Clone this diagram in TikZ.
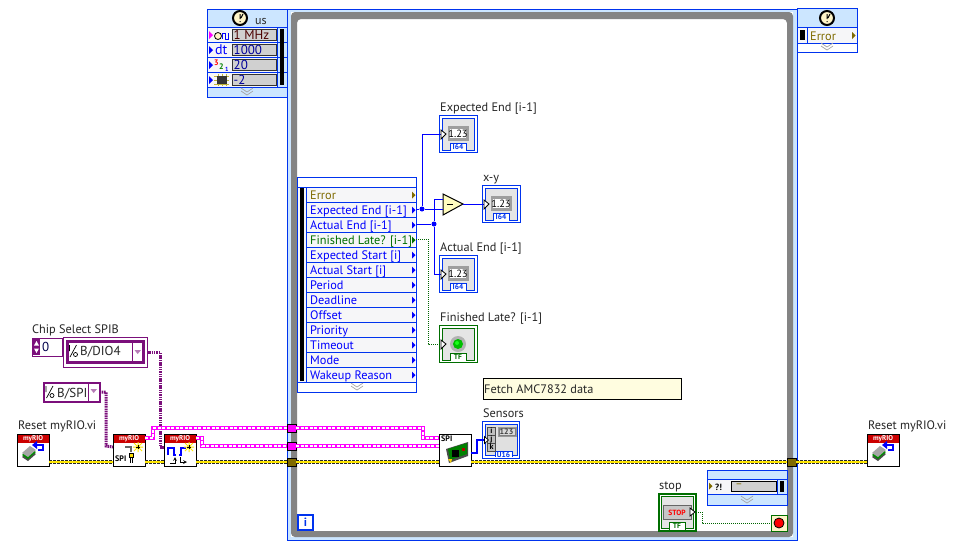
\documentclass[tikz,border=0pt]{standalone}
\usepackage{fontspec}
\setmainfont{PT Sans}
\usetikzlibrary{calc}
\definecolor{lvblue}{HTML}{0033EE}
\definecolor{pureblue}{HTML}{0000FF}
\definecolor{hdr}{HTML}{CCE6FF}
\definecolor{rowbg}{HTML}{F6F6F8}
\definecolor{lvgreen}{HTML}{006E00}
\definecolor{dkgreen}{HTML}{006400}
\definecolor{olive}{HTML}{7F6A00}
\definecolor{purp}{HTML}{7B0F7B}
\definecolor{pinkw}{HTML}{FF00FF}
\definecolor{loopgray}{HTML}{848484}
\definecolor{lightfield}{HTML}{D0D0D0}
\definecolor{cream}{HTML}{FFF5C8}
\tikzset{
 lab/.style={anchor=base west,inner sep=0pt,font=\fontsize{12.3}{13}\selectfont,text=black!85},
 rowtxt/.style={anchor=base west,inner sep=0pt,font=\fontsize{12.3}{13}\selectfont},
 fieldtxt/.style={anchor=base west,inner sep=0pt,font=\fontsize{13}{13}\selectfont},
 boxn/.style={draw,inner sep=0pt,outer sep=0pt,line width=1pt},
 vi/.style={boxn,draw=black,fill=white,minimum width=32pt,minimum height=32pt},
 tunnel/.style={boxn,draw=black,minimum width=9pt,minimum height=8pt},
 bluew/.style={draw=pureblue,line width=1pt},
 greenw/.style={draw=dkgreen,line width=1pt,dash pattern=on 1pt off 1pt},
 purpw/.style={draw=purp,line width=3pt,dash pattern=on 1.5pt off .8pt},
 pinkwire/.style={preaction={draw=pinkw,line width=4pt},draw=white,line width=1.2pt,dash pattern=on 3pt off 1.5pt},
 errw/.style={preaction={draw=black!85,line width=3.4pt,dash pattern=on 3pt off 1pt},draw=yellow!90!orange,line width=1.6pt},
 jn/.style={circle,fill=pureblue,inner sep=0pt,minimum size=5pt},
}
% indicator: name, x, y, colour, tag text
\newcommand{\indic}[5]{%
\begin{scope}[shift={(#2,#3)}]
 \node[boxn,draw=#4,fill=white,minimum width=38pt,minimum height=37pt] (#1) at (19,18.5) {};
 \fill[black!10] (3,3) rectangle (35,35);
 \draw[#4,line width=1pt] (3,35) -- (3,3) -- (35,3) -- (35,35) -- (27,35) -- (27,28) -- (11,28) -- (11,35) -- cycle;
 \fill[white] (11.5,28.5) rectangle (26.5,36);
 \draw[#4,line width=1pt] (11,28) -- (11,35) (27,28) -- (27,35);
 \coordinate (#1-in) at (2,19);
 \node[inner sep=0pt,font=\bfseries\fontsize{7.5}{7.5}\selectfont,text=#4] (#1-tag) at (19,32) {#5};
\end{scope}}
\newcommand{\numdisp}[3]{%
\begin{scope}[shift={(#2,#3)}]
 \fill[black!38] (9,11) rectangle (30,26);
 \fill[white] (11,14) rectangle (27,23);
 \node[inner sep=0pt,font=\fontsize{10.5}{10.5}\selectfont] (#1-val) at (19,18.7) {1.23};
 \draw[black,fill=white,line width=.8pt] (2,15) -- (7,19) -- (2,24) -- cycle;
\end{scope}}
\newcommand{\chev}[2]{%
 \draw[black!35,line width=.7pt] (#1-6,#2-3) -- (#1,#2+1) -- (#1+6,#2-3) (#1-6,#2) -- (#1,#2+4) -- (#1+6,#2);}
\newcommand{\clock}[2]{%
 \draw[black,fill=cream,line width=2pt] (#1,#2) circle (7pt);
 \draw[black,line width=1pt] (#1,#2-4) -- (#1,#2+1) (#1+1,#2) -- (#1+3,#2-4) (#1,#2+3) -- (#1,#2+4);}
\newcommand{\vihead}[1]{%
 \fill[red!80!black] (#1+.5,434.5) rectangle (#1+31.5,443);
 \node[inner sep=0pt,font=\bfseries\fontsize{7}{7}\selectfont,text=white] (hd#1) at (#1+16,439) {myRIO};}
\newcommand{\iolabel}[2]{%
 \draw[black,line width=.7pt] (#1,#2-6) -- (#1,#2) (#1+.5,#2+6) -- (#1+7,#2-6);
 \draw[black,line width=.7pt] (#1+6,#2+3.5) circle (2pt);}
\newcommand{\sparkle}[2]{%
 \draw[yellow!90!orange,line width=1pt] (#1-5,#2) -- (#1+5,#2) (#1,#2-5) -- (#1,#2+5) (#1-4,#2-4) -- (#1+4,#2+4) (#1-4,#2+4) -- (#1+4,#2-4);
 \draw[black,line width=.6pt] (#1-2,#2) -- (#1+2,#2) (#1,#2-2) -- (#1,#2+2);}
\newcommand{\reseticon}[1]{%
 \fill[black!70] (#1+5,457) -- (#1+13,450) -- (#1+19,454) -- (#1+11,461) -- cycle;
 \fill[green!55!black] (#1+5,455) -- (#1+13,448) -- (#1+19,452) -- (#1+11,459) -- cycle;
 \fill[black!35] (#1+5,453) -- (#1+13,446) -- (#1+19,450) -- (#1+11,457) -- cycle;
 \draw[pureblue,line width=1.5pt] (#1+18,445) -- (#1+26,445) -- (#1+26,450) -- (#1+21,450);
 \fill[pureblue] (#1+15,445) -- (#1+20,441) -- (#1+20,449) -- cycle;}

\begin{document}
\begin{tikzpicture}[x=1pt,y=-1pt]
\useasboundingbox (0,0) rectangle (958,547);
\fill[white] (0,0) rectangle (958,547);

%%% Timed loop frame
\node[boxn,draw=lvblue,fill=hdr,minimum width=510pt,minimum height=531pt] (loop) at (542,274.5) {};
\fill[white] (291,12) rectangle (793,537);
\fill[loopgray,even odd rule,rounded corners=4pt] (291,12) rectangle (793,537) (297,19) rectangle (787,531);
\draw[lvblue,line width=1pt] (287,9) rectangle (797,540);

%%% Input node
\node[boxn,draw=lvblue,fill=hdr,minimum width=80pt,minimum height=88pt] (inp) at (247,53) {};
\clock{240}{18}
\node[lab,font=\fontsize{12}{12}\selectfont] (us) at (255,24) {us};
\fill[rowbg] (207.5,27) rectangle (277,87);
\fill[hdr] (277,27) rectangle (286.5,87);
\foreach \yy in {27,42,57,72,87} \draw[lvblue,line width=1pt] (207,\yy) -- (287,\yy);
\draw[lvblue,line width=1pt] (277,27) -- (277,87);
\fill[black] (280,29) rectangle (284,85);
\foreach \yy/\lbl/\cc in {29/1 MHz/black!70!red,44/1000/blue!60!black,59/20/blue!60!black,74/-2/blue!60!black}{
 \draw[black!80,fill=lightfield,line width=.8pt] (232,\yy) rectangle (276,\yy+11);
 \node[fieldtxt,text=\cc] at (233.5,\yy+10.5) {\lbl};}
\fill[pinkw] (209,31) -- (213,35) -- (209,39) -- cycle;
\draw[black,fill=cream,line width=.8pt] (218,36) circle (3.5pt);
\draw[blue,line width=.8pt] (222,39) -- (222,33) -- (225,33) -- (225,39) -- (228,39) -- (228,33);
\fill[pureblue] (209,46) -- (213,50) -- (209,54) -- cycle;
\node[lab,text=pureblue,font=\fontsize{14}{14}\selectfont] (dt) at (215,54.5) {dt};
\fill[pureblue] (209,61) -- (213,65) -- (209,69) -- cycle;
\node[lab,text=red,font=\bfseries\fontsize{8}{8}\selectfont] (n3) at (214,65) {3};
\node[lab,text=green!50!black,font=\bfseries\fontsize{8}{8}\selectfont] (n2) at (219,69) {2};
\node[lab,text=blue,font=\bfseries\fontsize{6}{6}\selectfont] (n1) at (225,71) {1};
\fill[pureblue] (209,76) -- (213,80) -- (209,84) -- cycle;
\draw[yellow!70!black,line width=.7pt] (214,76) -- (229,76) (214,80) -- (229,80) (214,84) -- (229,84) (218,73.5) -- (218,86) (222,73.5) -- (222,86) (226,73.5) -- (226,86);
\fill[black!80] (217,76) rectangle (227,84);
\chev{247}{91}

%%% Error output node
\node[boxn,draw=lvblue,fill=white,minimum width=60pt,minimum height=44pt] (outn) at (827,30) {};
\fill[hdr] (797.5,8.5) rectangle (856.5,27);
\fill[rowbg] (797.5,27) rectangle (856.5,43);
\draw[lvblue,line width=1pt] (797,27) -- (857,27) (797,43) -- (857,43) (807,27) -- (807,43) (797,8) rectangle (857,52);
\clock{827}{18}
\fill[black] (800,30) rectangle (805,40);
\node[rowtxt,text=olive] (outerr) at (810,40) {Error};
\fill[olive] (852,32) -- (855.5,35.5) -- (852,39) -- cycle;
\chev{827}{46}

%%% Left data node
\node[boxn,draw=lvblue,fill=white,minimum width=119pt,minimum height=215pt] (ldn) at (356.5,284.5) {};
\fill[rowbg] (298,187) rectangle (415,382);
\draw[lvblue,line width=1pt] (297,177) rectangle (416,392) (306,187) -- (306,382) (297,187) -- (416,187);
\fill[black] (300,188) rectangle (304,381);
\foreach \ii/\lbl/\cc/\nn in {0/Error/olive/r0,1/Expected End [i-1]/pureblue/r1,2/Actual End [i-1]/pureblue/r2,3/Finished Late? [i-1]/lvgreen/r3,4/Expected Start [i]/pureblue/r4,5/Actual Start [i]/pureblue/r5,6/Period/pureblue/r6,7/Deadline/pureblue/r7,8/Offset/pureblue/r8,9/Priority/pureblue/r9,10/Timeout/pureblue/r10,11/Mode/pureblue/r11,12/Wakeup Reason/pureblue/r12}{
 \pgfmathsetmacro{\yt}{187+15*\ii}
 \draw[lvblue,line width=1pt] (306,\yt+15) -- (416,\yt+15);
 \node[rowtxt,text=\cc] (\nn) at (310,\yt+12) {\lbl};
 \fill[\cc] (412,\yt+4.5) -- (415.5,\yt+8) -- (412,\yt+11.5) -- cycle;
}
\draw[lvblue,line width=1pt] (297,382) -- (416,382);
\chev{357}{386}
\coordinate (o1) at (416,209);
\coordinate (o2) at (416,224);
\coordinate (o3) at (416,239);

%%% Indicators
\indic{ee}{439}{115}{lvblue}{I64}
\node[lab] (eel) at (440,111) {Expected End [i-1]};
\indic{xy}{482}{185}{lvblue}{I64}
\node[lab] (xyl) at (483,181) {x-y};
\indic{ae}{439}{255}{lvblue}{I64}
\node[lab] (ael) at (440,251) {Actual End [i-1]};
\indic{fl}{439}{325}{lvgreen}{TF}
\node[lab] (fll) at (440,321) {Finished Late? [i-1]};
\fill[black!30] (458,344) circle (8pt);
\fill[green!75!black] (458,344) circle (5pt);
\fill[green!90!white] (457,343) circle (2pt);

%%% subtract
\draw[black,fill=yellow!25,line width=1pt] (443,194) -- (463,204) -- (443,215) -- cycle;
\coordinate (subx) at (443,199);
\coordinate (suby) at (443,209);
\coordinate (subo) at (463,204);
\draw[black,line width=1pt] (447,204.5) -- (453,204.5);

%%% blue wires
\node[jn] (j1) at (422,209) {};
\node[jn] (j2) at (434,224) {};
\draw[bluew] (o1) -- (j1) -- (suby);
\draw[bluew] (j1) |- (ee-in);
\draw[bluew] (o2) -- (j2);
\draw[bluew] (j2) |- (subx);
\draw[bluew] (j2) |- (ae-in);
\draw[bluew] (subo) -- (xy-in);
\draw[greenw] (o3) -- (428,239) |- (fl-in);
\draw[black,fill=white,line width=.8pt] (441,340) -- (446,344) -- (441,349) -- cycle;
\numdisp{eed}{439}{115}
\numdisp{xyd}{482}{185}
\numdisp{aed}{439}{255}

%%% note
\node[boxn,draw=black,fill=yellow!12,minimum width=198pt,minimum height=21pt] (note) at (582,388.5) {};
\node[lab] (notet) at (484,393) {Fetch AMC7832 data};

%%% Tunnels
\node[tunnel,fill=pinkw] (t1) at (291.5,428) {};
\node[tunnel,fill=pinkw] (t2) at (291.5,446) {};
\node[tunnel,fill=olive] (t3) at (291.5,462) {};
\node[tunnel,fill=olive] (t4) at (791.5,462) {};

%%% VIs
\node[vi] (rs1) at (33,450) {};
\node[vi] (vi1) at (129,450) {};
\node[vi] (vi2) at (180,450) {};
\node[vi] (spi) at (455,450) {};
\node[vi] (rs2) at (883,450) {};
\coordinate (vi1o) at (145,438);
\coordinate (vi2o) at (196,438);
\coordinate (spia) at (439,438);
\coordinate (spib) at (439,446);
\coordinate (vi1a) at (113,447);
\coordinate (vi2a) at (164,447);

%%% Error wires
\draw[errw] (rs1.east |- 0,462) -- (vi1.west |- 0,462);
\draw[errw] (vi1.east |- 0,462) -- (vi2.west |- 0,462);
\draw[errw] (vi2.east |- 0,462) -- (t3.west);
\draw[errw] (t3.east) -- (spi.west |- 0,462);
\draw[errw] (spi.east |- 0,462) -- (t4.west);
\draw[errw] (t4.east) -- (rs2.west |- 0,462);

%%% Constants
\node[lab] (csl) at (32,333) {Chip Select SPIB};
\node[boxn,draw=purp,fill=white,minimum width=30pt,minimum height=18pt] (num) at (47,347) {};
\fill[purp] (33,339) rectangle (40,355);
\fill[white] (36.5,341) -- (39,345.5) -- (34,345.5) -- cycle (36.5,353) -- (39,348.5) -- (34,348.5) -- cycle;
\node[fieldtxt,text=black!70!blue] (numv) at (42,351.5) {0};
\node[boxn,draw=purp,fill=white,minimum width=84pt,minimum height=30pt] (ring) at (105,352) {};
\draw[purp,line width=3pt] (67,341.5) rectangle (143.5,362.5);
\draw[purp,line width=1pt] (132,342) -- (132,362);
\iolabel{69.5}{351}
\node[rowtxt,text=black!85,font=\fontsize{13}{13}\selectfont] (ringt) at (80,355) {B/DIO4};
\fill[purp!55] (134.5,350) -- (141,350) -- (137.7,354) -- cycle;
\node[boxn,draw=purp,fill=white,line width=2pt,minimum width=56pt,minimum height=19pt] (spic) at (71.5,392) {};
\draw[purp,line width=1pt] (88,382) -- (88,402);
\iolabel{46}{392}
\node[rowtxt,text=black!85,font=\fontsize{13}{13}\selectfont] (spict) at (57,397) {B/SPI};
\fill[purp!55] (90.5,389) -- (97,389) -- (93.7,393) -- cycle;
\draw[purpw] (ring.east) -- (160,352) -- (160,447) -- (vi2a);
\draw[purpw] (spic.east) -- (106,392) -- (106,446) -- (vi1a);

%%% Pink wires
\draw[pinkwire] (vi1o) -- (153,438) -- (153,428) -- (t1.west);
\draw[pinkwire] (vi2o) -- (202,438) -- (202,446) -- (t2.west);
\draw[pinkwire] (t1.east) -- (423,428) -- (423,438) -- (spia);
\draw[pinkwire] (t2.east) -- (spib);

\vihead{17}
\vihead{113}
\vihead{164}
\vihead{867}
\node[lab] (rs1l) at (18,429) {Reset myRIO.vi};
\node[lab] (rs2l) at (868,429) {Reset myRIO.vi};
\reseticon{17}
\reseticon{867}
% VI1 glyph
\node[inner sep=0pt,anchor=base west,font=\bfseries\fontsize{8}{8}\selectfont] (spit) at (115,461) {SPI};
\draw[black!60,line width=1.4pt] (125,447) -- (131,447) -- (131,452);
\draw[black,fill=yellow!80!orange,line width=.6pt] (129,453) rectangle (133,457);
\draw[black,line width=.7pt] (130,457.5) -- (130,463) (132,457.5) -- (132,463);
\sparkle{138}{447}
% VI2 glyph
\draw[blue,line width=1.1pt] (168,455) -- (168,448) -- (174,448) -- (174,455) -- (176,455) (179,455) -- (181,455) -- (181,448) -- (186,448);
\sparkle{189}{447}
\draw[black,line width=.7pt,->,>=stealth] (170,463) -- (175,463) -- (175,457);
\draw[black,line width=.7pt,->,>=stealth] (180,457) -- (180,462) -- (187,462);
% SPI glyph
\node[inner sep=0pt,anchor=base west,font=\bfseries\fontsize{8}{8}\selectfont] (spil) at (441,441.5) {SPI};
\fill[black!70] (446,449) -- (468,442) -- (468,456) -- (449,463) -- cycle;
\fill[green!50!black] (448,449) -- (467,443) -- (467,454) -- (450,460) -- cycle;
\fill[black] (452,450) rectangle (459,457);
\fill[yellow!70!orange] (448,459) -- (451,463) -- (452,459) -- cycle;
\fill[red!70!black] (462,448) rectangle (465,451);

%%% Sensors
\node[lab] (senl) at (483,417) {Sensors};
\node[boxn,draw=lvblue,fill=white,minimum width=37pt,minimum height=37pt] (sen) at (500.5,439.5) {};
\fill[black!12] (485,424) rectangle (516.5,455);
\draw[lvblue,line width=1pt] (485,455) -- (485,424) -- (517,424) -- (517,455) -- (512,455) -- (512,451) -- (495,451) -- (495,455) -- cycle;
\fill[white] (495.5,451.5) rectangle (511.5,457.5);
\draw[lvblue,line width=1pt] (495,451) -- (495,457) (512,451) -- (512,457);
\node[inner sep=0pt,font=\bfseries\fontsize{7.5}{7.5}\selectfont,text=lvblue] (sentag) at (503.5,454.5) {U16};
\draw[black!40,fill=black!50] (498,427) rectangle (516,436);
\fill[white!85!black] (499.5,428.5) rectangle (514.5,434.5);
\node[inner sep=0pt,font=\bfseries\fontsize{8}{8}\selectfont,text=black!75] (sen123) at (506.5,431.7) {123};
\foreach \yy/\lbl in {427/i,435/j,443/k}{
 \draw[black!70,fill=black!25,line width=.6pt] (487,\yy) rectangle (495,\yy+8);
 \node[inner sep=0pt,font=\bfseries\fontsize{8}{8}\selectfont] at (491.5,\yy+4) {\lbl};}
\coordinate (senin) at (486,440);
\draw[pureblue,line width=2.6pt] (spi.east |- 0,453) -- (477,453) -- (477,440) -- (senin);
\draw[black,fill=white,line width=.7pt] (484.5,436.5) -- (488.5,440) -- (484.5,443.5) -- cycle;

%%% Case-like output node
\node[boxn,draw=lvblue,fill=hdr,minimum width=80pt,minimum height=35pt] (sel) at (747,487.5) {};
\fill[rowbg] (707.5,479) rectangle (777,494);
\draw[lvblue,line width=1pt] (707,479) -- (787,479) (707,494) -- (787,494) (777,479) -- (777,494);
\draw[black,fill=lightfield,line width=1pt] (731,481) rectangle (776,491);
\node[inner sep=0pt,font=\fontsize{11}{11}\selectfont,text=olive] (dashes) at (739,486) {--};
\fill[black] (780,481) rectangle (784,492);
\fill[olive] (709,482.5) -- (712.5,486) -- (709,489.5) -- cycle;
\node[inner sep=0pt,anchor=base west,font=\bfseries\fontsize{9}{9}\selectfont] (qx) at (715,490) {?!};
\chev{747}{499}

%%% stop
\node[lab] (stopl) at (659,489) {stop};
\node[boxn,draw=lvgreen,fill=white,line width=2pt,minimum width=37pt,minimum height=37pt] (stopb) at (677,512) {};
\fill[black!10] (661,496) rectangle (693,528);
\draw[lvgreen,line width=1pt] (661,528) -- (661,496) -- (693,496) -- (693,528) -- (685,528) -- (685,522) -- (669,522) -- (669,528) -- cycle;
\fill[white] (669.5,522.5) rectangle (684.5,530);
\draw[lvgreen,line width=1pt] (669,522) -- (669,530) (685,522) -- (685,530);
\node[inner sep=0pt,font=\bfseries\fontsize{7.5}{7.5}\selectfont,text=lvgreen] (stoptag) at (677,526.3) {TF};
\draw[black!60,fill=black!22,line width=.8pt] (663,505) rectangle (691,519);
\node[inner sep=0pt,font=\bfseries\fontsize{7.5}{7.5}\selectfont,text=red] (stopt) at (677,512.5) {STOP};
\coordinate (stopo) at (696,512);
\draw[black,fill=white,line width=.8pt] (690,508) -- (695,512) -- (690,516) -- cycle;
\node[boxn,draw=lvgreen,fill=cream,minimum width=16pt,minimum height=16pt] (cond) at (779,523) {};
\draw[black,fill=red,line width=.8pt] (779,523) circle (5pt);
\draw[greenw] (stopo) -- (702,512) -- (702,523) -- (cond.west);

%%% iteration
\node[boxn,draw=lvblue,fill=white,line width=1.5pt,minimum width=15pt,minimum height=15pt,font=\bfseries\fontsize{12}{12}\selectfont,text=lvblue] (iter) at (305.5,522.5) {i};
\end{tikzpicture}
\end{document}
